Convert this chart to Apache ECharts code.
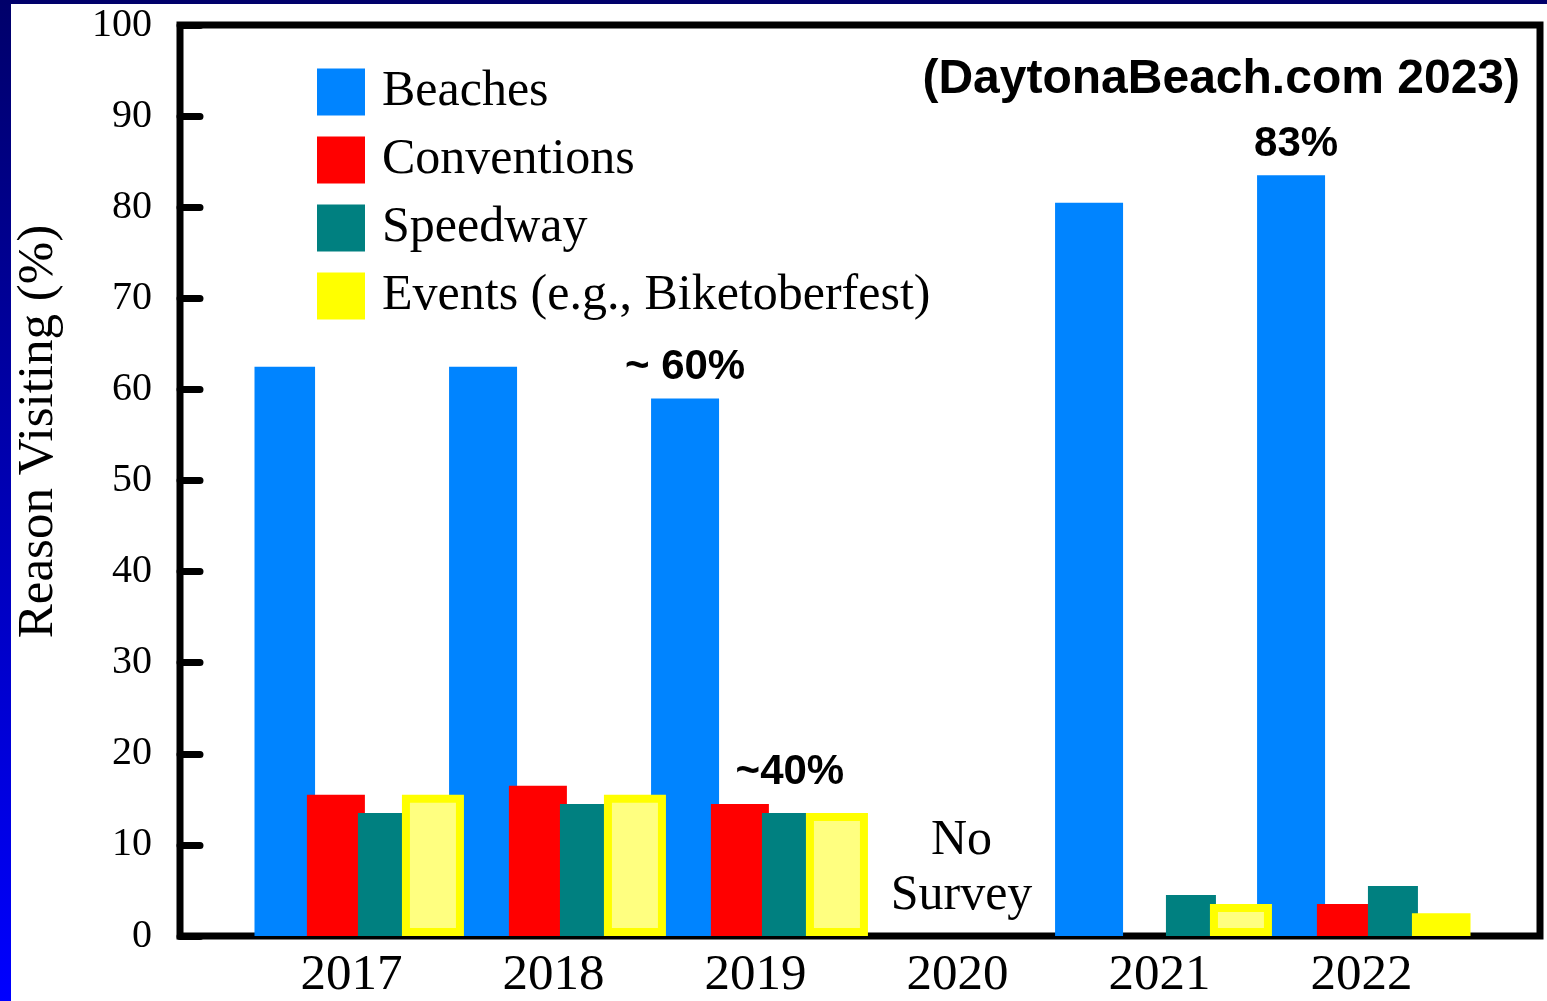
<!DOCTYPE html>
<html lang="en">
<head>
<meta charset="UTF-8">
<title>Reason Visiting</title>
<script src="https://cdn.jsdelivr.net/npm/echarts@6.0.0/dist/echarts.min.js"></script>
<style>
  html, body { margin: 0; padding: 0; }
  body { width: 1547px; height: 1001px; overflow: hidden; position: relative;
         background: linear-gradient(to bottom, #00006a, #0000ff); }
  #main { position: absolute; left: 11px; top: 4px; width: 1536px; height: 997px; background: #fff; }
</style>
</head>
<body>
<div id="main"></div>
<script>
var chart = echarts.init(document.getElementById('main'));

// data
var years = ['2017', '2018', '2019', '2020', '2021', '2022'];
var beaches = [62.5, 62.5, 59, null, 80.5, 83.5];
var conventions = [15.5, 16.5, 14.5, null, null, 3.5];
var speedway = [13.5, 14.5, 13.5, null, 4.5, 5.5];
var events = [15.5, 15.5, 13.5, null, 3.5, 2.5];
var eventsHollow = [true, true, true, false, true, false];
var beachNotes = ['', '', '~ 60%', '', '', '83%'];
var conventionNotes = ['', '', '~40%', '', '', ''];
var noSurvey = [['2020', 0]];

var serif = '"Liberation Serif", "Times New Roman", serif';
var sans = '"Liberation Sans", Arial, sans-serif';

function noteItems(vals, notes, offsets) {
    return vals.map(function (v, i) {
        if (!notes[i]) return v;
        return {
            value: v,
            label: {
                show: true, position: 'top', distance: 10, offset: offsets[i] || [0, 0],
                formatter: notes[i], color: '#000',
                fontFamily: sans, fontWeight: 'bold', fontSize: 42
            }
        };
    });
}

var eventItems = events.map(function (v, i) {
    return {
        value: v,
        itemStyle: {
            color: eventsHollow[i] ? '#ffff80' : '#ffff00',
            borderColor: '#ffff00',
            borderWidth: 8
        }
    };
});

var option = {
    animation: false,
    title: {
        text: '(DaytonaBeach.com 2023)',
        right: 27, top: 52, padding: 0,
        textStyle: { fontFamily: sans, fontWeight: 'bold', fontSize: 48, color: '#000' }
    },
    legend: {
        orient: 'vertical', left: 301, top: 58,
        icon: 'rect', itemWidth: 48, itemHeight: 47, itemGap: 18,
        data: ['Beaches', 'Conventions', 'Speedway', 'Events (e.g., Biketoberfest)'],
        textStyle: { fontFamily: serif, fontSize: 50, color: '#000', padding: [0, 0, 0, 12] }
    },
    grid: [
        { left: 169, right: 7, top: 21, bottom: 65, show: true, borderColor: '#000', borderWidth: 7,
          outerBoundsMode: 'none' },
        { left: 243.5, right: 80.5, top: 21, bottom: 65, outerBoundsMode: 'none' }
    ],
    xAxis: [
        { gridIndex: 0, type: 'category', data: years, show: false },
        { gridIndex: 1, type: 'category', data: years,
          axisLine: { show: false }, axisTick: { show: false },
          axisLabel: { fontFamily: serif, fontSize: 51, color: '#000', margin: 14, padding: [0, 8, 0, 0] } }
    ],
    yAxis: [
        { gridIndex: 0, type: 'value', min: 0, max: 100, interval: 10,
          name: 'Reason Visiting (%)', nameLocation: 'middle', nameGap: 116,
          nameTextStyle: { fontFamily: serif, fontSize: 51, color: '#000', padding: [0, 0, 0, 98] },
          axisLine: { show: false },
          axisTick: { show: true, inside: true, length: 20,
                      lineStyle: { color: '#000', width: 7, cap: 'round' } },
          axisLabel: { fontFamily: serif, fontSize: 40, color: '#000', margin: 28, padding: [7, 0, 0, 0] },
          splitLine: { show: false } },
        { gridIndex: 1, type: 'value', min: 0, max: 100, show: false, splitLine: { show: false } }
    ],
    series: [
        { name: 'Beaches', type: 'bar', xAxisIndex: 1, yAxisIndex: 1, barWidth: 68, barGap: '-12%',
          itemStyle: { color: '#0084ff' },
          data: noteItems(beaches, beachNotes, [null, null, [0, 0], null, null, [5, 0]]) },
        { name: 'Conventions', type: 'bar', xAxisIndex: 1, yAxisIndex: 1, barWidth: 58, barGap: '-12%',
          itemStyle: { color: '#ff0000' },
          data: noteItems(conventions, conventionNotes, [null, null, [50, 0]]) },
        { name: 'Speedway', type: 'bar', xAxisIndex: 1, yAxisIndex: 1, barWidth: 50, barGap: '-12%',
          itemStyle: { color: '#008080' }, data: speedway },
        { name: 'Events (e.g., Biketoberfest)', type: 'bar', xAxisIndex: 1, yAxisIndex: 1, barWidth: 62, barGap: '-12%',
          itemStyle: { color: '#ffff00' }, data: eventItems },
        { name: 'note', type: 'scatter', xAxisIndex: 1, yAxisIndex: 1, symbolSize: 1,
          itemStyle: { color: 'rgba(0,0,0,0)', opacity: 1 }, silent: true,
          label: { show: true, position: 'top', distance: 12, formatter: 'No\nSurvey',
                   fontFamily: serif, fontSize: 50, lineHeight: 55, color: '#000', opacity: 1 },
          data: noSurvey }
    ]
};
chart.setOption(option);
</script>
</body>
</html>
